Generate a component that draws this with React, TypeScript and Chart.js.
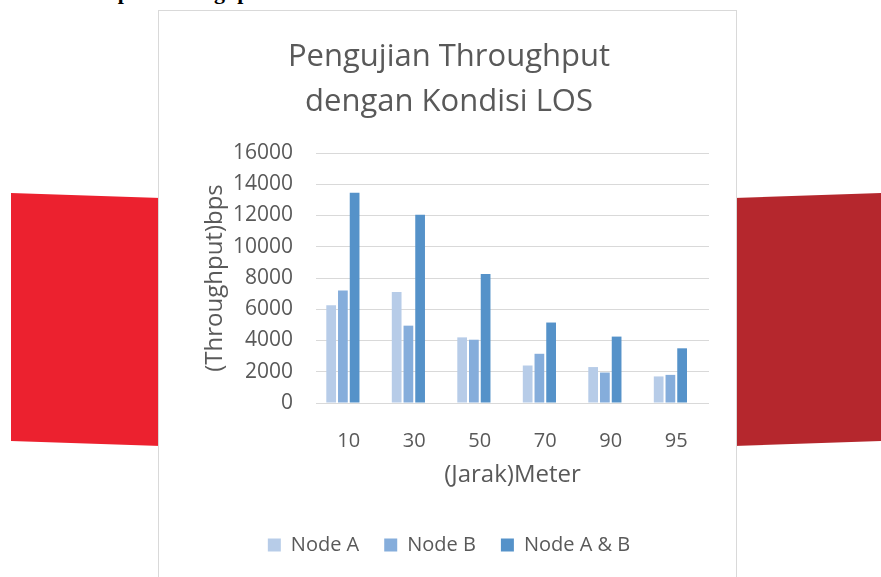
import React, { useEffect, useRef } from 'react';
import { Chart, registerables } from 'chart.js';

Chart.register(...registerables);

// ---- data ----
const categories = ['10', '30', '50', '70', '90', '95'];
const nodeA = [6250, 7100, 4200, 2400, 2300, 1700];
const nodeB = [7200, 4950, 4050, 3150, 1950, 1800];
const nodeAB = [13450, 12050, 8250, 5150, 4250, 3500];
// empty series kept by the original chart (takes a slot in each group, draws nothing)
const emptySeries = [null, null, null, null, null, null];
const seriesNames = ['Node A', 'Node B', 'Node A & B'];
const yMin = 0;
const yMax = 16000;
const yStep = 2000;
const chartTitle = ['Pengujian Throughput', 'dengan Kondisi LOS'];
const xAxisTitle = '(Jarak)Meter';
const yAxisTitle = '(Throughput)bps';
const headingText = 'Output Throughput';

// ---- styles ----
const FONT = "'Open Sans', sans-serif";
const TEXT = '#595959';
const GRID = '#D9D9D9';
const COLORS = ['#B7CCE8', '#85ADDB', '#5592C9'];

export default function App() {
  const ref = useRef<HTMLCanvasElement>(null);

  useEffect(() => {
    if (!ref.current) return;
    const chart = new Chart(ref.current, {
      type: 'bar',
      data: {
        labels: categories,
        datasets: [
          { label: seriesNames[0], data: nodeA, backgroundColor: COLORS[0], borderWidth: 0 },
          { label: seriesNames[1], data: nodeB, backgroundColor: COLORS[1], borderWidth: 0 },
          { label: seriesNames[2], data: nodeAB, backgroundColor: COLORS[2], borderWidth: 0 },
          { label: '', data: emptySeries as any, backgroundColor: 'rgba(0,0,0,0)', borderWidth: 0 },
        ],
      },
      options: {
        responsive: false,
        maintainAspectRatio: false,
        animation: false,
        events: [],
        layout: { padding: { left: 30, right: 27, top: 0, bottom: 12 } },
        datasets: { bar: { categoryPercentage: 0.716, barPercentage: 0.83 } },
        plugins: {
          title: {
            display: true,
            text: chartTitle,
            color: TEXT,
            font: { family: FONT, size: 31, weight: 'normal', lineHeight: 45 / 31 },
            padding: { top: 23.4, bottom: 28.6 },
          },
          legend: {
            position: 'bottom',
            labels: {
              filter: (item: any) => item.datasetIndex < 3,
              boxWidth: 13,
              boxHeight: 13,
              padding: 25,
              color: TEXT,
              font: { family: FONT, size: 20 },
            },
          },
          tooltip: { enabled: false },
        },
        scales: {
          x: {
            grid: { display: false },
            border: { display: false },
            ticks: { color: TEXT, font: { family: FONT, size: 20 }, padding: 18 },
            title: {
              display: true,
              text: xAxisTitle,
              color: TEXT,
              font: { family: FONT, size: 24 },
              padding: { top: 0, bottom: 20.6 },
            },
            afterFit: (s: any) => {
              s.height = 107;
            },
          },
          y: {
            min: yMin,
            max: yMax,
            ticks: {
              stepSize: yStep,
              color: TEXT,
              font: { family: FONT, size: 21 },
              padding: 23,
              callback: (v: any) => String(v),
            },
            grid: { color: GRID, lineWidth: 1, drawTicks: false },
            border: { display: false },
            title: {
              display: true,
              text: yAxisTitle,
              color: TEXT,
              font: { family: FONT, size: 24 },
              padding: { top: 11.6, bottom: 0 },
            },
            afterFit: (s: any) => {
              s.width = 127;
            },
          },
        },
      } as any,
    });
    return () => chart.destroy();
  }, []);

  return (
    <div
      style={{
        position: 'fixed',
        left: 0,
        top: 0,
        width: 881,
        height: 577,
        overflow: 'hidden',
        background: '#ffffff',
      }}
    >
      <div
        style={{
          position: 'absolute',
          left: 81,
          top: -21,
          fontFamily: "'Liberation Serif', serif",
          fontWeight: 'bold',
          fontSize: 22,
          color: '#000',
          whiteSpace: 'nowrap',
        }}
      >
        {headingText}
      </div>
      <div
        style={{
          position: 'absolute',
          left: 11,
          top: 193,
          width: 150,
          height: 253,
          background: '#EC212F',
          clipPath: 'polygon(0 0, 100% 5px, 100% 100%, 0 248px)',
        }}
      />
      <div
        style={{
          position: 'absolute',
          left: 734,
          top: 193,
          width: 147,
          height: 253,
          background: '#B5272D',
          clipPath: 'polygon(0 5px, 100% 0, 100% 248px, 0 100%)',
        }}
      />
      <div
        style={{
          position: 'absolute',
          left: 158,
          top: 10,
          width: 577,
          height: 600,
          background: '#ffffff',
          border: '1px solid ' + GRID,
        }}
      >
        <canvas ref={ref} width={577} height={566} style={{ display: 'block', width: 577, height: 566 }} />
      </div>
    </div>
  );
}
